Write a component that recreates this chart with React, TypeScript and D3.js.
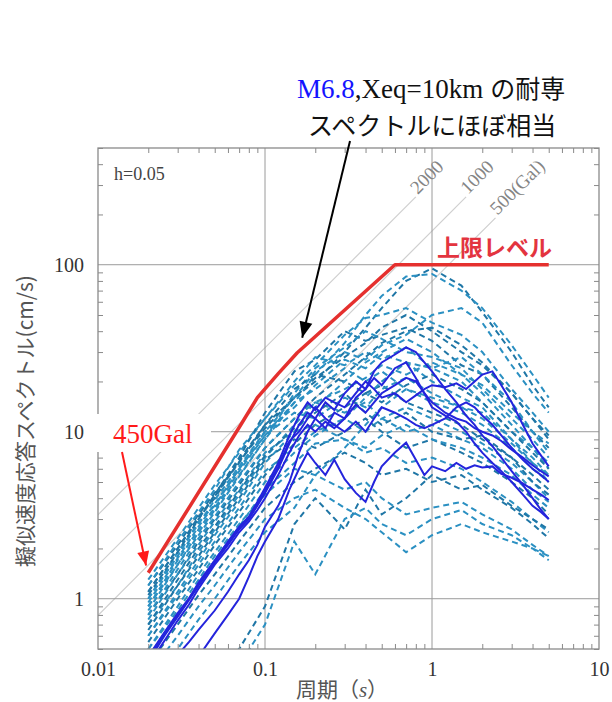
import * as d3 from "d3";
import { useEffect, useRef } from "react";

const W = 612;
const H = 702;

const SERIF = "'Liberation Serif', 'DejaVu Serif', serif";
const GOTHIC = "'Noto Sans CJK JP', 'Noto Sans', sans-serif";

// periods (s) of the dashed (observed) spectra
const periods = [0.02, 0.03, 0.04, 0.05, 0.07, 0.1, 0.15, 0.2, 0.3, 0.4, 0.5, 0.7, 1, 1.5, 2, 3, 4, 5];

// pseudo velocity response (cm/s)
const dashedRecords = [
  [1.2, 2.1, 3.2, 4.3, 6.5, 11, 16, 20, 30, 42, 55, 80, 95, 75, 52, 30, 19, 14],
  [1.0, 1.8, 2.9, 3.6, 6.0, 9.5, 15, 22, 34, 50, 65, 85, 88, 70, 55, 33, 22, 16],
  [1.3, 2.3, 3.5, 4.8, 7.5, 12, 19, 25, 38, 48, 50, 55, 45, 38, 30, 18, 13, 10],
  [1.1, 2.0, 3.0, 4.2, 7.0, 13, 23, 27, 40, 35, 38, 42, 35, 25, 22, 14, 10, 8],
  [0.9, 1.6, 2.5, 3.4, 5.5, 9, 17, 24, 32, 40, 36, 30, 28, 24, 18, 12, 9, 7],
  [1.2, 2.2, 3.3, 4.5, 7.8, 12, 20, 28, 25, 30, 27, 32, 24, 20, 15, 10, 8, 6],
  [0.8, 1.4, 2.2, 3.0, 4.8, 8.0, 12, 16, 22, 28, 34, 40, 42, 33, 26, 17, 12, 9],
  [1.0, 1.9, 2.8, 3.9, 6.2, 10, 14, 19, 27, 24, 29, 26, 20, 16, 14, 9, 6.5, 5],
  [0.7, 1.2, 1.9, 2.6, 4.2, 7.0, 11, 15, 18, 21, 25, 22, 26, 22, 19, 13, 10, 8.5],
  [1.1, 2.0, 3.1, 4.0, 6.8, 11, 18, 22, 20, 17, 19, 15, 13, 11, 9, 7, 5.5, 4.5],
  [0.6, 1.1, 1.7, 2.4, 3.8, 6.5, 10, 14, 20, 26, 30, 36, 30, 22, 17, 11, 8, 6.5],
  [0.9, 1.7, 2.6, 3.5, 5.8, 9.5, 13, 12, 16, 14, 18, 21, 17, 14, 12, 8.5, 6.5, 5.5],
  [0.55, 1.0, 1.5, 2.1, 3.3, 5.5, 8.5, 11, 14, 17, 15, 19, 22, 18, 15, 10, 7.5, 6],
  [0.8, 1.5, 2.3, 3.1, 5.0, 8.0, 12, 15, 13, 15, 12, 10, 11, 9, 8, 6, 4.5, 3.8],
  [0.5, 0.9, 1.4, 1.9, 3.0, 5.0, 7.5, 9.5, 12, 10, 12, 14, 12, 10, 8.5, 6.5, 5, 4],
  [0.65, 1.2, 1.8, 2.5, 4.0, 6.8, 9.0, 8.0, 10, 12, 10, 8, 9, 7.5, 6.5, 5, 4, 3.2],
  [0.45, 0.8, 1.2, 1.7, 2.7, 4.5, 6.5, 8.5, 9, 8, 9.5, 11, 9, 8, 7, 5.5, 4.2, 3.5],
  [0.75, 1.4, 2.1, 2.9, 4.5, 7.5, 10, 11, 9, 7.5, 8, 6.5, 7, 6, 5, 3.8, 3, 2.5],
  [0.4, 0.7, 1.05, 1.4, 2.2, 3.5, 5.0, 6.0, 7.5, 6.5, 5.5, 6, 5, 5.5, 4.5, 3.5, 2.8, 2.3],
  [0.5, 0.85, 1.3, 1.8, 2.8, 4.2, 6.0, 5.5, 4.5, 5, 4, 3.2, 3.5, 3.8, 3.2, 2.6, 2.1, 1.8],
  [0.35, 0.6, 0.9, 1.2, 1.9, 3.0, 4.0, 4.5, 3.5, 3.0, 2.5, 1.9, 2.4, 2.8, 2.5, 2.2, 2.0, 1.7],
  [0.2, 0.3, 0.35, 0.4, 0.5, 0.9, 2.8, 4.0, 2.6, 4.5, 3.2, 4.0, 5.5, 4.5, 4.8, 3.6, 3.0, 2.6],
  [0.3, 0.5, 0.75, 1.0, 1.6, 2.5, 3.5, 5.5, 8, 11, 14, 18, 16, 14, 13, 9, 7, 5.5],
  [0.85, 1.6, 2.4, 3.3, 5.4, 9.0, 15, 18, 24, 20, 23, 18, 15, 13, 11, 8, 6, 5],
  [1.05, 1.9, 3.0, 4.1, 6.6, 10.5, 16, 21, 28, 34, 42, 50, 40, 30, 25, 17, 12, 9.5],
  [0.95, 1.75, 2.7, 3.7, 6.0, 10, 16, 23, 30, 27, 33, 38, 50, 55, 45, 25, 17, 13],
  [0.6, 1.05, 1.6, 2.2, 3.5, 5.8, 8.0, 10, 12, 16, 20, 26, 24, 28, 22, 15, 10, 7.5],
  [0.7, 1.3, 2.0, 2.7, 4.4, 7.2, 10.5, 13, 17, 13, 11, 13, 10, 9, 9.5, 7, 5, 4.2],
  [0.15, 0.2, 0.25, 0.3, 0.4, 0.7, 2.2, 1.4, 3.0, 3.5, 2.8, 2.4, 3.0, 3.4, 2.8, 2.4, 2.0, 1.8],
];

// periods (s) of the solid (simulated) spectra
const periodsFine = [
  0.02, 0.025, 0.03, 0.035, 0.04, 0.05, 0.06, 0.07, 0.08, 0.09,
  0.1, 0.12, 0.14, 0.16, 0.18, 0.2, 0.23, 0.26, 0.3, 0.35,
  0.4, 0.45, 0.5, 0.6, 0.7, 0.8, 0.9, 1, 1.2, 1.4,
  1.6, 1.8, 2, 2.3, 2.6, 3, 3.5, 4, 4.5, 5,
];

const solidA = [0.42, 0.6, 0.78, 0.98, 1.2, 1.65, 2.1, 2.6, 3.0, 3.6, 4.3, 6.0, 8.5, 11, 13, 12, 15, 13.5, 17, 20, 18, 23, 26, 29, 32, 30, 26, 23, 18, 15, 12.5, 11, 9.5, 8.2, 7, 5.8, 4.8, 4.0, 3.4, 3.0];
const solidB = [0.45, 0.63, 0.82, 1.0, 1.25, 1.7, 2.2, 2.7, 3.1, 3.8, 4.6, 6.5, 9.5, 12.5, 15, 13.5, 16, 15, 14, 17, 20, 18, 16, 17, 15, 16.5, 18, 19, 18.5, 19.5, 18, 20, 22, 23, 19, 15, 11, 8.5, 7.2, 6.2];
const solidC = [0.4, 0.56, 0.74, 0.92, 1.15, 1.6, 2.0, 2.5, 2.9, 3.4, 4.0, 5.5, 7.5, 9.5, 11, 10, 11.5, 10.5, 12, 14.5, 13, 15, 17, 19, 21, 20, 17, 15, 13, 12, 11.5, 10.5, 10, 9.5, 8.8, 7.8, 7, 6.3, 5.8, 5.4];
const solidD = [0.22, 0.28, 0.33, 0.38, 0.45, 0.62, 0.8, 1.0, 1.35, 1.8, 2.2, 3.0, 4.5, 6, 7.5, 6.5, 5.5, 6.8, 5.2, 4.3, 3.8, 5.0, 6.2, 7.5, 8.6, 6.8, 5.5, 6.2, 5.8, 6.5, 6.0, 6.3, 6.1, 6.2, 5.6, 5.3, 4.9, 4.5, 4.2, 3.9];
const solidE = [0.3, 0.38, 0.46, 0.55, 0.65, 0.85, 1.1, 1.4, 1.7, 2.1, 2.7, 3.6, 5, 7.5, 10, 12, 10.5, 13, 12, 16, 18, 21, 19, 24, 26, 21, 17, 14, 12.5, 11.5, 10, 8.5, 7.5, 6.5, 5.8, 5, 4.2, 3.6, 3.3, 3.0];
const solidF = [0.44, 0.62, 0.8, 1.0, 1.22, 1.68, 2.15, 2.65, 3.05, 3.7, 4.4, 6.2, 8.8, 10, 12, 14, 12, 11, 10, 11.5, 10, 12, 14, 13, 12, 11, 10.5, 11, 12, 14, 15, 14, 12.5, 11, 9.5, 8, 6.8, 6, 5.5, 5.0];
const solidRecords = [solidA, solidB, solidC, solidD, solidE, solidF];

// upper level (red)
const upperT = [0.02, 0.07, 0.09, 0.12, 0.156, 0.6, 5];
const upperSv = [1.43, 10.6, 16, 22.3, 29.7, 100, 100];

// constant pseudo-acceleration guide lines
const gals = [2000, 1000, 500];
const galEndT = [0.8, 1.6, 2.4];
const galLabels = ["2000", "1000", "500(Gal)"];

const xTicks = [0.01, 0.1, 1, 10];
const xTickLabels = ["0.01", "0.1", "1", "10"];
const yTicks = [1, 10, 100];
const yTickLabels = ["1", "10", "100"];

const minorOf = (decades: number[]) =>
  decades.flatMap((d) => [2, 3, 4, 5, 6, 7, 8, 9].map((k) => k * d));

const arrowHead = (x1: number, y1: number, x2: number, y2: number, len: number, half: number) => {
  const a = Math.atan2(y2 - y1, x2 - x1);
  const bx = x2 - len * Math.cos(a);
  const by = y2 - len * Math.sin(a);
  const px = -Math.sin(a) * half;
  const py = Math.cos(a) * half;
  return `M${x2},${y2}L${bx + px},${by + py}L${bx - px},${by - py}Z`;
};

const App = () => {
  const ref = useRef<SVGSVGElement>(null);

  useEffect(() => {
    const svg = d3.select(ref.current);
    svg.selectAll("*").remove();

    const x = d3.scaleLog().domain([0.01, 10]).range([98, 599]);
    const y = d3.scaleLog().domain([0.5, 500]).range([649, 148]);
    const [x0, x1] = x.range();
    const [y0, y1] = y.range();

    svg.append("defs").append("clipPath").attr("id", "plot")
      .append("rect").attr("x", x0).attr("y", y1).attr("width", x1 - x0).attr("height", y0 - y1);

    const plot = svg.append("g").attr("clip-path", "url(#plot)");

    // constant acceleration lines: Sv = A T / 2pi
    gals.forEach((a, i) => {
      const t0 = 0.005;
      const t1 = galEndT[i];
      plot.append("line")
        .attr("x1", x(t0)).attr("y1", y((a * t0) / (2 * Math.PI)))
        .attr("x2", x(t1)).attr("y2", y((a * t1) / (2 * Math.PI)))
        .attr("stroke", "#cfcfcf").attr("stroke-width", 1.2);
      svg.append("text")
        .attr("transform", `translate(${x(t1) + 2},${y((a * t1) / (2 * Math.PI)) - 2}) rotate(-45)`)
        .attr("font-family", SERIF).attr("font-size", 19).attr("fill", "#858585")
        .text(galLabels[i]);
    });

    // major grid
    [0.1, 1].forEach((t) => {
      plot.append("line").attr("x1", x(t)).attr("x2", x(t)).attr("y1", y0).attr("y2", y1)
        .attr("stroke", "#9a9a9a").attr("stroke-width", 1);
    });
    yTicks.forEach((v) => {
      plot.append("line").attr("x1", x0).attr("x2", x1).attr("y1", y(v)).attr("y2", y(v))
        .attr("stroke", "#9a9a9a").attr("stroke-width", 1);
    });

    // minor ticks inside the frame on all sides
    const minorX = minorOf([0.01, 0.1, 1]);
    const minorY = minorOf([0.1, 1, 10, 100]).filter((v) => v >= 0.5 && v <= 500);
    const tickStyle = (g: any) => {
      g.select(".domain").remove();
      g.selectAll("line").attr("stroke", "#8a8a8a");
    };
    svg.append("g").attr("transform", `translate(0,${y0})`)
      .call(d3.axisTop(x).tickValues(minorX).tickSize(5).tickFormat(() => "")).call(tickStyle);
    svg.append("g").attr("transform", `translate(0,${y1})`)
      .call(d3.axisBottom(x).tickValues(minorX).tickSize(5).tickFormat(() => "")).call(tickStyle);
    svg.append("g").attr("transform", `translate(${x0},0)`)
      .call(d3.axisRight(y).tickValues(minorY).tickSize(5).tickFormat(() => "")).call(tickStyle);
    svg.append("g").attr("transform", `translate(${x1},0)`)
      .call(d3.axisLeft(y).tickValues(minorY).tickSize(5).tickFormat(() => "")).call(tickStyle);

    // tick labels
    const xAxis = svg.append("g").attr("transform", `translate(0,${y0})`)
      .call(d3.axisBottom(x).tickValues(xTicks).tickSize(0).tickPadding(13)
        .tickFormat((_d, i) => xTickLabels[i]));
    xAxis.select(".domain").remove();
    xAxis.selectAll("text").attr("font-family", SERIF).attr("font-size", 20).attr("fill", "#333");

    const yAxis = svg.append("g").attr("transform", `translate(${x0},0)`)
      .call(d3.axisLeft(y).tickValues(yTicks).tickSize(0).tickPadding(14)
        .tickFormat((_d, i) => yTickLabels[i]));
    yAxis.select(".domain").remove();
    yAxis.selectAll("text").attr("font-family", SERIF).attr("font-size", 20).attr("fill", "#333");

    // frame
    svg.append("rect").attr("x", x0).attr("y", y1).attr("width", x1 - x0).attr("height", y0 - y1)
      .attr("fill", "none").attr("stroke", "#8a8a8a").attr("stroke-width", 1.3);

    const line = d3.line<[number, number]>().x((d) => x(d[0])).y((d) => y(d[1]));

    // dashed records
    dashedRecords.forEach((vals, i) => {
      plot.append("path")
        .attr("d", line(periods.map((t, j) => [t, vals[j]] as [number, number])))
        .attr("fill", "none")
        .attr("stroke", i % 3 === 0 ? "#1f76a6" : "#2b90c2")
        .attr("stroke-width", 2)
        .attr("stroke-dasharray", "6,4");
    });

    // solid records
    solidRecords.forEach((vals) => {
      plot.append("path")
        .attr("d", line(periodsFine.map((t, j) => [t, vals[j]] as [number, number])))
        .attr("fill", "none")
        .attr("stroke", "#2424dc")
        .attr("stroke-width", 2);
    });

    // upper level
    plot.append("path")
      .attr("d", line(upperT.map((t, j) => [t, upperSv[j]] as [number, number])))
      .attr("fill", "none").attr("stroke", "#e5302e").attr("stroke-width", 3.5)
      .attr("stroke-linejoin", "round");

    svg.append("text").attr("x", 437).attr("y", 256)
      .attr("font-family", GOTHIC).attr("font-size", 23).attr("font-weight", 600)
      .attr("fill", "#e3343f").text("上限レベル");

    svg.append("text").attr("x", 114).attr("y", 180)
      .attr("font-family", SERIF).attr("font-size", 18).attr("fill", "#444").text("h=0.05");

    // 450Gal label with white backing
    svg.append("rect").attr("x", 93).attr("y", 414).attr("width", 118).attr("height", 38).attr("fill", "#fff");
    svg.append("text").attr("x", 113).attr("y", 443)
      .attr("font-family", SERIF).attr("font-size", 27).attr("fill", "#ff1a1a").text("450Gal");

    const rx1 = 122, ry1 = 452;
    const rx2 = x(0.0194), ry2 = y(1.58);
    svg.append("line").attr("x1", rx1).attr("y1", ry1).attr("x2", rx2).attr("y2", ry2)
      .attr("stroke", "#ff1a1a").attr("stroke-width", 2);
    svg.append("path").attr("d", arrowHead(rx1, ry1, rx2, ry2, 14, 6)).attr("fill", "#ff1a1a");

    // top annotation, laid out piece by piece
    const pieces = [
      { text: "M6.8", font: SERIF, size: 27, fill: "#1414ff" },
      { text: ",Xeq=10km", font: SERIF, size: 27, fill: "#111" },
      { text: "の耐専", font: GOTHIC, size: 25, fill: "#111" },
    ];
    let cx = 297;
    pieces.forEach((p, i) => {
      const node = svg.append("text").attr("x", cx).attr("y", 98)
        .attr("font-family", p.font).attr("font-size", p.size).attr("fill", p.fill).text(p.text);
      const w = (node.node() as SVGTextElement).getComputedTextLength();
      cx += w + (i === 1 ? 7 : 0);
    });
    svg.append("text").attr("x", 308).attr("y", 135)
      .attr("font-family", GOTHIC).attr("font-size", 25).attr("fill", "#111").text("スペクトルにほぼ相当");

    const bx1 = 350, by1 = 141;
    const bx2 = x(0.167), by2 = y(36.5);
    svg.append("line").attr("x1", bx1).attr("y1", by1).attr("x2", bx2).attr("y2", by2)
      .attr("stroke", "#000").attr("stroke-width", 2);
    svg.append("path").attr("d", arrowHead(bx1, by1, bx2, by2, 16, 6.5)).attr("fill", "#000");

    // axis titles
    const xt = svg.append("text").attr("x", 342).attr("y", 697).attr("text-anchor", "middle")
      .attr("font-family", GOTHIC).attr("font-size", 21).attr("fill", "#555");
    xt.append("tspan").text("周期（");
    xt.append("tspan").attr("font-family", SERIF).attr("font-style", "italic").text("s");
    xt.append("tspan").text("）");

    svg.append("text").attr("transform", "translate(33,421) rotate(-90)").attr("text-anchor", "middle")
      .attr("font-family", GOTHIC).attr("font-size", 21).attr("fill", "#555")
      .text("擬似速度応答スペクトル(cm/s)");
  }, []);

  return (
    <svg ref={ref} width={W} height={H}
      style={{ position: "absolute", left: 0, top: 0, background: "#fff" }} />
  );
};

export default App;
